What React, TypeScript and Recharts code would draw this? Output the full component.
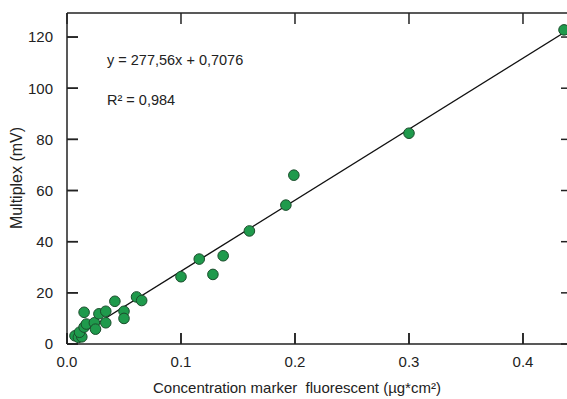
import { ComposedChart, Scatter, Line, XAxis, YAxis } from 'recharts'

// measured points (concentration, multiplex mV)
const concentration = [
  0.007, 0.01, 0.013, 0.011, 0.015, 0.017, 0.015, 0.024, 0.025, 0.028, 0.034, 0.034, 0.042,
  0.05, 0.05, 0.061, 0.0655, 0.1, 0.116, 0.128, 0.137, 0.16, 0.192, 0.199, 0.3, 0.436,
]
const multiplex = [
  3.2, 2.6, 2.8, 4.6, 6.6, 7.8, 12.4, 8.3, 5.8, 11.8, 12.8, 8.3, 16.7,
  12.8, 10, 18.4, 17, 26.3, 33.2, 27.2, 34.5, 44.2, 54.3, 66, 82.4, 122.8,
]

const slope = 277.56
const intercept = 0.7076
const fitRange = [0.007, 0.44]

const xTicks = [0, 0.1, 0.2, 0.3, 0.4]
const yTicks = [0, 20, 40, 60, 80, 100, 120]

const points = concentration.map((x, i) => ({ x, y: multiplex[i] }))
const fitLine = fitRange.map((x) => ({ x, y: slope * x + intercept }))

const FONT = '"Liberation Sans", Arial, sans-serif'
const INK = '#222'

// plot frame (px)
const W = 580
const LEFT = 67
const TOP = 13
const BOTTOM = 344
const RIGHT = 572
const TICK = 11
const X_MAX = 0.443
const Y_MAX = 129.4

const xPx = (v: number) => LEFT + (v / X_MAX) * (RIGHT - LEFT)
const yPx = (v: number) => BOTTOM - (v / Y_MAX) * (BOTTOM - TOP)

const bottomTick = ({ x, payload }: any) => (
  <g>
    <line x1={x} x2={x} y1={BOTTOM} y2={BOTTOM - TICK} stroke={INK} strokeWidth={1.5} />
    <text x={x} y={367} textAnchor="middle" fill={INK} fontSize={15} fontFamily={FONT}>
      {Number(payload.value).toFixed(1)}
    </text>
  </g>
)

const leftTick = ({ y, payload }: any) => (
  <g>
    <line x1={LEFT} x2={LEFT + TICK} y1={y} y2={y} stroke={INK} strokeWidth={1.5} />
    <text x={53} y={y} dy="0.36em" textAnchor="end" fill={INK} fontSize={15} fontFamily={FONT}>
      {payload.value}
    </text>
  </g>
)

// inward tick marks on all four sides, plus the top/right frame
function Frame() {
  return (
    <svg width={W} height={399} style={{ position: 'absolute', left: 0, top: 0, zIndex: 10, pointerEvents: 'none' }}>
      <line x1={LEFT} x2={RIGHT} y1={TOP} y2={TOP} stroke={INK} strokeWidth={1.5} />
      <line x1={RIGHT} x2={RIGHT} y1={TOP} y2={BOTTOM} stroke={INK} strokeWidth={1.5} />
      {xTicks.map((v) => (
        <g key={`x${v}`}>
          <line x1={xPx(v)} x2={xPx(v)} y1={BOTTOM} y2={BOTTOM - TICK} stroke={INK} strokeWidth={1.5} />
          <line x1={xPx(v)} x2={xPx(v)} y1={TOP} y2={TOP + TICK} stroke={INK} strokeWidth={1.5} />
        </g>
      ))}
      {yTicks.map((v) => (
        <g key={`y${v}`}>
          <line x1={LEFT} x2={LEFT + TICK} y1={yPx(v)} y2={yPx(v)} stroke={INK} strokeWidth={1.5} />
          <line x1={RIGHT} x2={RIGHT - TICK} y1={yPx(v)} y2={yPx(v)} stroke={INK} strokeWidth={1.5} />
        </g>
      ))}
    </svg>
  )
}

const textStyle = { position: 'absolute' as const, fontFamily: FONT, color: INK, whiteSpace: 'pre' as const, lineHeight: 1 }

export default function App() {
  return (
    <div style={{ position: 'absolute', left: 0, top: 0, width: 567, height: 399, overflow: 'hidden', background: '#fff' }}>
      <ComposedChart width={W} height={399} margin={{ top: TOP, right: W - RIGHT, bottom: 0, left: 0 }}>
        <XAxis
          dataKey="x"
          type="number"
          domain={[0, X_MAX]}
          ticks={xTicks}
          allowDataOverflow
          height={55}
          stroke={INK}
          strokeWidth={1.5}
          tickLine={false}
          tick={bottomTick}
        />
        <YAxis
          dataKey="y"
          type="number"
          domain={[0, Y_MAX]}
          ticks={yTicks}
          allowDataOverflow
          width={LEFT}
          stroke={INK}
          strokeWidth={1.5}
          tickLine={false}
          tick={leftTick}
        />
        <Scatter
          data={points}
          shape={(p: any) => <circle cx={p.cx} cy={p.cy} r={5.3} fill="#1f9a4c" stroke="#1b4d2c" strokeWidth={1} />}
          isAnimationActive={false}
        />
        <Line
          data={fitLine}
          dataKey="y"
          type="linear"
          stroke="#111"
          strokeWidth={1.4}
          dot={false}
          activeDot={false}
          isAnimationActive={false}
        />
      </ComposedChart>
      <Frame />
      <div style={{ ...textStyle, left: 107, top: 53, fontSize: 14.5 }}>y = 277,56x + 0,7076</div>
      <div style={{ ...textStyle, left: 107, top: 93, fontSize: 14.5 }}>R² = 0,984</div>
      <div style={{ ...textStyle, left: 297, top: 380, fontSize: 15, transform: 'translateX(-50%)' }}>
        Concentration marker  fluorescent (µg*cm²)
      </div>
      <div
        style={{
          ...textStyle,
          left: 17,
          top: 178,
          fontSize: 16,
          transform: 'translate(-50%, -50%) rotate(-90deg)',
        }}
      >
        Multiplex (mV)
      </div>
    </div>
  )
}
